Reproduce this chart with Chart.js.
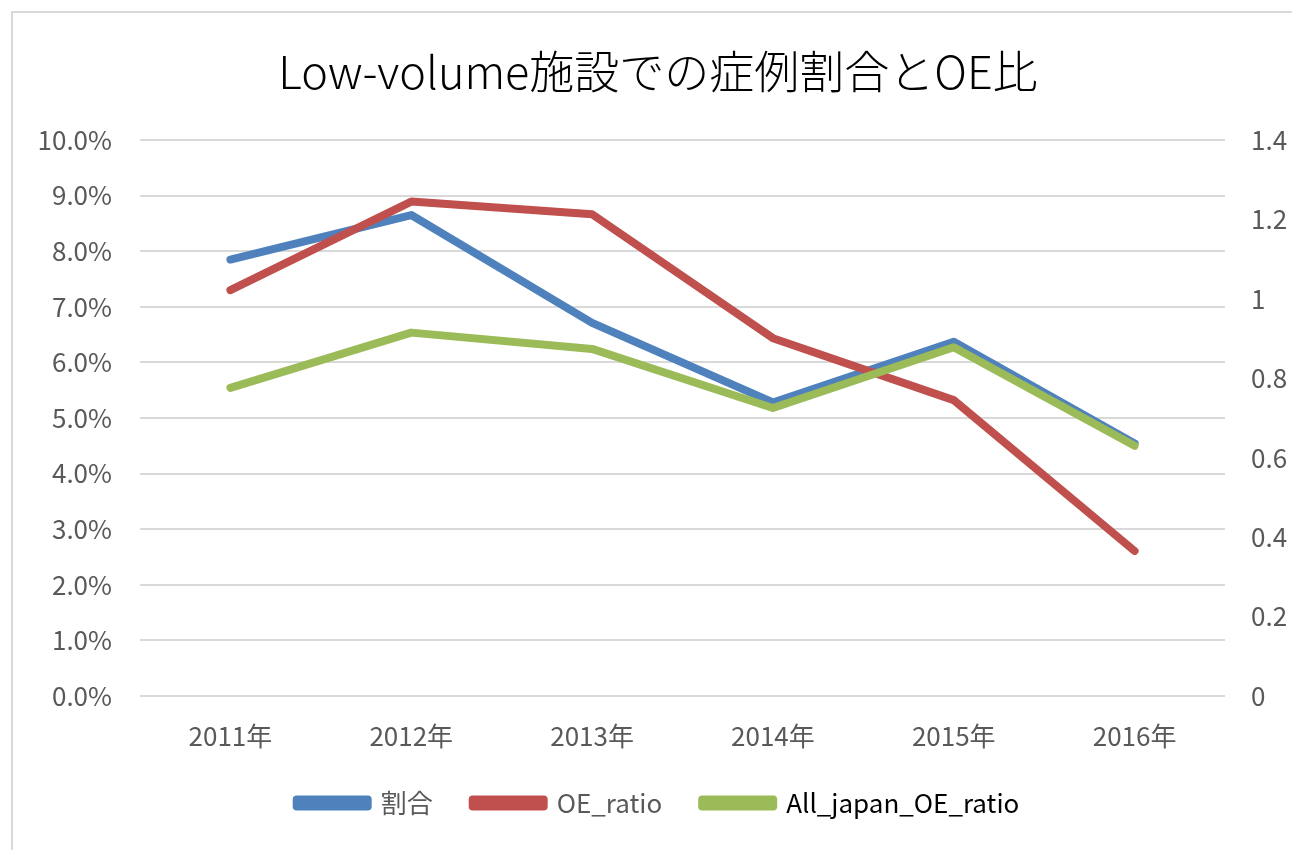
<!DOCTYPE html>
<html>
<head>
<meta charset="utf-8">
<script src="https://cdn.jsdelivr.net/npm/chart.js@4"></script>
<style>
  html, body { margin: 0; padding: 0; background: #fff; overflow: hidden; }
  #frame {
    position: absolute; left: 11px; top: 11px;
    width: 1300px; height: 860px;
    border: 2px solid #d9d9d9; box-sizing: border-box;
  }
  #wrap { position: absolute; left: 12px; top: 12px; width: 1292px; height: 850px; }
</style>
</head>
<body>
<div id="frame"></div>
<div id="wrap"><canvas id="oeChart" width="1292" height="850"></canvas></div>
<script>
// Data
const years = ['2011年', '2012年', '2013年', '2014年', '2015年', '2016年'];
const ratioPct = [7.85, 8.65, 6.71, 5.28, 6.37, 4.54];      // 割合 (%), left axis
const oeRatio = [1.022, 1.245, 1.213, 0.901, 0.745, 0.365];  // OE_ratio, right axis
const allJapanOe = [0.776, 0.915, 0.874, 0.725, 0.878, 0.630]; // All_japan_OE_ratio, right axis

const tickGray = '#595959';
const gridGray = '#d9d9d9';
const jpFont = "'Noto Sans CJK JP', 'Noto Sans', sans-serif";

const ctx = document.getElementById('oeChart').getContext('2d');

new Chart(ctx, {
  type: 'line',
  data: {
    labels: years,
    datasets: [
      {
        label: '割合',
        data: ratioPct,
        borderColor: '#4F81BD',
        backgroundColor: '#4F81BD',
        borderWidth: 8,
        pointRadius: 0,
        order: 3,
        yAxisID: 'y'
      },
      {
        label: 'OE_ratio',
        data: oeRatio,
        borderColor: '#C0504D',
        backgroundColor: '#C0504D',
        borderWidth: 8,
        pointRadius: 0,
        order: 2,
        yAxisID: 'y1'
      },
      {
        label: 'All_japan_OE_ratio',
        data: allJapanOe,
        borderColor: '#9BBB59',
        backgroundColor: '#9BBB59',
        borderWidth: 8,
        pointRadius: 0,
        order: 1,
        yAxisID: 'y1'
      }
    ]
  },
  options: {
    responsive: false,
    animation: false,
    layout: { padding: { top: 33, bottom: 36 } },
    elements: { line: { tension: 0, borderCapStyle: 'round', borderJoinStyle: 'round' } },
    plugins: {
      title: {
        display: true,
        text: 'Low-volume施設での症例割合とOE比',
        color: '#000',
        font: { family: jpFont, size: 45, weight: '300' },
        padding: { top: 0, bottom: 41 }
      },
      legend: {
        position: 'bottom',
        labels: {
          boxWidth: 71,
          boxHeight: 7,
          padding: 40,
          color: tickGray,
          font: { family: jpFont, size: 26 },
          sort: (a, b) => a.datasetIndex - b.datasetIndex,
          generateLabels: (chart) => {
            const items = Chart.defaults.plugins.legend.labels.generateLabels(chart);
            items[0].fontColor = '#000';
            return items;
          }
        }
      },
      tooltip: { enabled: false }
    },
    scales: {
      x: {
        offset: true,
        afterFit: (scale) => { scale.height = 54; },
        grid: { display: false },
        border: { display: false },
        ticks: {
          color: tickGray,
          padding: 17,
          maxRotation: 0,
          minRotation: 0,
          font: { family: jpFont, size: 26 }
        }
      },
      y: {
        type: 'linear', position: 'left',
        min: 0, max: 10,
        afterFit: (scale) => { scale.width = 128; },
        grid: { color: gridGray, lineWidth: 2, drawTicks: false },
        border: { display: false },
        ticks: {
          stepSize: 1,
          color: tickGray,
          padding: 28,
          font: { family: jpFont, size: 26 },
          callback: (v) => v.toFixed(1) + '%'
        }
      },
      y1: {
        type: 'linear', position: 'right',
        min: 0, max: 1.4,
        afterFit: (scale) => { scale.width = 79; },
        grid: { drawOnChartArea: false, drawTicks: false },
        border: { display: false },
        ticks: {
          stepSize: 0.2,
          color: tickGray,
          padding: 26,
          font: { family: jpFont, size: 26 },
          callback: (v) => String(Math.round(v * 10) / 10)
        }
      }
    }
  }
});
</script>
</body>
</html>
